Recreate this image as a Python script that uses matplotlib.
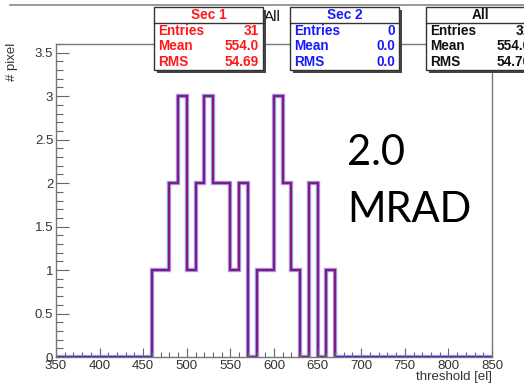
import numpy as np
import matplotlib.pyplot as plt
from matplotlib.patches import Rectangle
from matplotlib.ticker import MultipleLocator

# threshold histogram, 10 el bins from 350 to 850
bin_edges = np.arange(350, 860, 10)
counts = [0, 0, 0, 0, 0, 0, 0, 0, 0, 0,
          0, 1, 1, 2, 3, 1, 2, 3, 2, 2,
          1, 2, 0, 1, 1, 3, 2, 1, 0, 2,
          0, 1, 0, 0, 0, 0, 0, 0, 0, 0,
          0, 0, 0, 0, 0, 0, 0, 0, 0, 0]

# stat box contents
stat_titles = ["Sec 1", "Sec 2", "All"]
stat_colors = ["#ff1a1a", "#1a1aff", "#111111"]
stat_labels = ["Entries", "Mean", "RMS"]
stat_values = [["31", "554.0", "54.69"],
               ["0", "0.0", "0.0"],
               ["31", "554.0", "54.70"]]

W, H = 524, 385
fig = plt.figure(figsize=(W / 100, H / 100), dpi=100)
plt.rcParams['font.family'] = ['Liberation Sans', 'DejaVu Sans']

ax = fig.add_axes([56 / W, 1 - 357 / H, (492 - 56) / W, (357 - 44) / H])
counts = np.array(counts)
ax.stairs(counts, bin_edges, color="#6f6fe6", lw=3.2, alpha=0.55)
ax.stairs(counts, bin_edges, color="#2424d8", lw=1.6)
ax.stairs(counts[11:32], bin_edges[11:33], color="#86197c", lw=1.6)

ax.set_xlim(350, 850)
ax.set_ylim(0, 3.6)
ax.xaxis.set_major_locator(MultipleLocator(50))
ax.xaxis.set_minor_locator(MultipleLocator(10))
ax.yaxis.set_major_locator(MultipleLocator(0.5))
ax.yaxis.set_minor_locator(MultipleLocator(0.1))
ax.set_yticks(np.arange(0, 3.6, 0.5))
ax.set_yticklabels(["0", "0.5", "1", "1.5", "2", "2.5", "3", "3.5"])
ax.tick_params(which="both", direction="in", colors="#666666", labelcolor="#333333",
               labelsize=9.5, pad=2, width=0.8)
ax.tick_params(axis="x", which="major", length=6.8)
ax.tick_params(axis="x", which="minor", length=3.4)
ax.tick_params(axis="y", which="major", length=9.4)
ax.tick_params(axis="y", which="minor", length=4.7)
for s in ax.spines.values():
    s.set_color("#777777")
    s.set_linewidth(1.0)

fig.text(12 / W, 1 - 43 / H, "# pixel", rotation=90, ha="center", va="top",
         fontsize=9.5, color="#333333")
fig.text(492 / W, 1 - 377 / H, "threshold [el]", ha="right", va="center",
         fontsize=9.5, color="#333333")

# overlay in pixel coordinates for the canvas decorations
ov = fig.add_axes([0, 0, 1, 1], facecolor="none")
ov.set_xlim(0, W)
ov.set_ylim(H, 0)
ov.axis("off")

ov.plot([10, W], [5, 5], color="#888888", lw=1.2)
ov.text(264, 17, "All", ha="left", va="center", fontsize=11, color="#111111")

box_x = [154, 290, 426]
box_w = 109
for bx, title, col, vals in zip(box_x, stat_titles, stat_colors, stat_values):
    ov.add_patch(Rectangle((bx + 2.5, 9.5), box_w, 63, facecolor="#444444",
                           edgecolor="none", zorder=3, clip_on=False))
    ov.add_patch(Rectangle((bx, 7), box_w, 63, facecolor="white",
                           edgecolor="#333333", lw=1.0, zorder=4, clip_on=False))
    ov.plot([bx, bx + box_w], [23, 23], color="#333333", lw=1.0, zorder=5)
    ov.text(bx + box_w / 2, 15, title, ha="center", va="center", fontsize=9.8,
            fontweight="bold", color=col, zorder=6)
    for lab, val, yy in zip(stat_labels, vals, [31, 46, 61.5]):
        ov.text(bx + 4, yy, lab, ha="left", va="center", fontsize=9.8,
                fontweight="bold", color=col, zorder=6)
        ov.text(bx + box_w - 4, yy, val, ha="right", va="center", fontsize=9.8,
                fontweight="bold", color=col, zorder=6)

ov.text(347, 165, "2.0", ha="left", va="baseline", fontsize=30,
        family=["Lato", "DejaVu Sans"], color="black")
ov.text(347, 222, "MRAD", ha="left", va="baseline", fontsize=30,
        family=["Lato", "DejaVu Sans"], color="black")

fig.savefig("out.png", dpi=100)
